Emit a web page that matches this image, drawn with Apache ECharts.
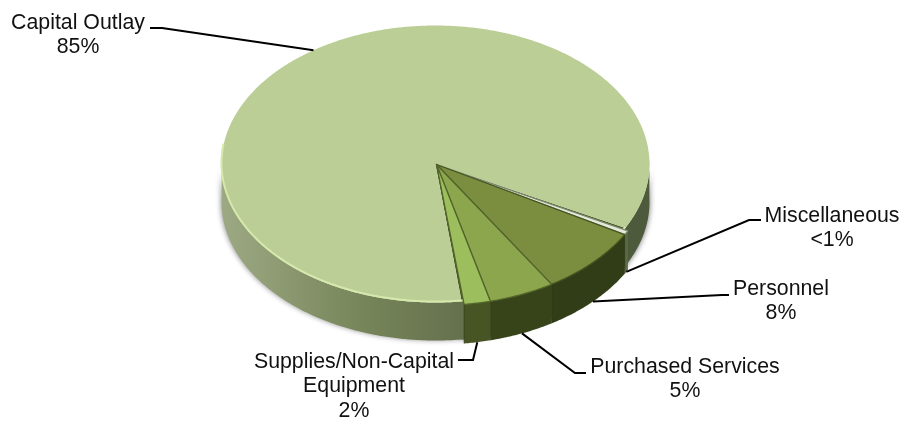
<!DOCTYPE html>
<html>
<head>
<meta charset="utf-8">
<style>html,body{margin:0;padding:0;background:#fff}#chart{width:904px;height:421px}</style>
<script src="https://cdn.jsdelivr.net/npm/echarts@6/dist/echarts.min.js"></script>
</head>
<body>
<div id="chart"></div>
<script>
// Spending shares, drawn in pie order (counter-clockwise from the bottom seam).
const categories = ['Supplies/Non-Capital\nEquipment', 'Purchased Services', 'Personnel', 'Miscellaneous', 'Capital Outlay'];
const values = [2, 5, 8, 0.5, 85];
const shareLabels = ['2%', '5%', '8%', '<1%', '85%'];

// Pie geometry: an elliptical top face above a vertical rim.
const pie = { cx: 435.5, cy: 164, rx: 214, ry: 138.5, depth: 38, seamDeg: 83 };
const detached = { dx: 2.5, dy: 3, apexDx: 1, apexDy: 0.5, depth: 39 };

const styles = [
  { top: '#9cbe5c', wall: '#475524', edge: '#54652b' },
  { top: '#8ba64d', wall: '#37441a', edge: '#54652b' },
  { top: '#7b8e40', wall: '#313d17', edge: '#46551f' },
  { top: '#e4e9da', wall: '#5d6a48', edge: '#7d8a6e' },
  { top: '#bbce96', wall: '#4f5b3d', edge: '#bbce96' }
];

// Elbow point, label centre and first-line position of each callout.
const callouts = [
  { elbow: [473, 360], end: [458, 360], x: 354, y: 362 },
  { elbow: [575, 373], end: [586, 373], x: 685, y: 367 },
  { elbow: [722, 295], end: [729, 295], x: 781, y: 289 },
  { elbow: [749, 220], end: [761, 220], x: 832, y: 216 },
  { elbow: [162, 28], end: [150, 28], x: 78, y: 23 }
];

const total = values.reduce((a, b) => a + b, 0);
const RAD = Math.PI / 180;

// Angular span of a slice, walking backwards from the seam.
function span(i) {
  let from = pie.seamDeg;
  for (let k = 0; k < i; k++) from -= values[k] / total * 360;
  return [from - values[i] / total * 360, from];
}
function rim(deg, ox, oy, drop) {
  return [pie.cx + ox + pie.rx * Math.cos(deg * RAD), pie.cy + oy + drop + pie.ry * Math.sin(deg * RAD)];
}
function arc(a, b, ox, oy, drop) {
  const n = Math.max(2, Math.ceil(Math.abs(b - a) * 2));
  const pts = [];
  for (let k = 0; k <= n; k++) pts.push(rim(a + (b - a) * k / n, ox, oy, drop));
  return pts;
}
function wallPiece(a, b, ox, oy, fill, depth, extra) {
  return Object.assign({
    type: 'polygon',
    shape: { points: arc(a, b, ox, oy, 0).concat(arc(b, a, ox, oy, depth)) },
    style: { fill: fill }
  }, extra || {});
}

function renderSlice(params) {
  const i = params.dataIndex;
  const [start, end] = span(i);
  const s = styles[i];
  const isMain = i === values.length - 1;
  const ox = isMain ? 0 : detached.dx;
  const oy = isMain ? 0 : detached.dy;
  const depth = isMain ? pie.depth : detached.depth;
  const apex = isMain ? [pie.cx, pie.cy] : [pie.cx + detached.apexDx, pie.cy + detached.apexDy];
  const children = [];

  if (isMain) {
    // Main slice: visible rim on the right and a shaded sweep on the front-left.
    children.push(wallPiece(-2, start + 360, 0, 0, '#4e5a3c', depth, {
      style: { fill: '#4e5a3c', shadowBlur: 5, shadowColor: 'rgba(60,60,60,0.55)', shadowOffsetX: 1 }
    }));
    children.push(wallPiece(end, 182, 0, 0, '#4f5b3d', depth, {
      style: {
        shadowBlur: 5, shadowColor: 'rgba(60,60,60,0.5)', shadowOffsetX: -1,
        fill: new echarts.graphic.LinearGradient(1, 0, 0, 0, [
          { offset: 0, color: '#4c573b' },
          { offset: 0.3, color: '#5c6847' },
          { offset: 0.65, color: '#77855a' },
          { offset: 1, color: '#9da983' }
        ])
      }
    }));
    // Dark backing that shows through the seam around the detached wedges.
    children.push({
      type: 'polygon',
      shape: { points: [apex].concat(arc(start + 360, end, 0, 0, 0)) },
      style: { fill: '#4a5a26' }
    });
  } else {
    children.push(wallPiece(start, end, ox, oy, s.wall, depth));
    children.push({
      type: 'polyline',
      shape: { points: [rim(end, ox, oy, 0), rim(end, ox, oy, depth)] },
      style: { stroke: '#2a3412', lineWidth: 1, fill: 'none', opacity: 0.6 }
    });
  }

  children.push({
    type: 'polygon',
    shape: { points: [apex].concat(arc(start, end, ox, oy, 0)) },
    style: { fill: s.top, stroke: s.edge, lineWidth: isMain ? 0 : 1.3, lineJoin: 'round' }
  });

  if (isMain) {
    // Pale highlight running along the front edge of the main face.
    children.push({
      type: 'polyline',
      shape: { points: arc(end, 188, 0, 0, -1) },
      style: { stroke: '#d6e8ac', lineWidth: 2, fill: 'none' }
    });
  }

  // Callout: leader from the slice's mid-angle, then a short elbow to the label.
  const mid = (start + end) / 2;
  const anchor = rim(mid, ox, oy, Math.sin(mid * RAD) > 0 ? depth : 0);
  const c = callouts[i];
  children.push({
    type: 'polyline',
    shape: { points: [anchor, c.elbow, c.end] },
    style: { stroke: '#000', lineWidth: 2, fill: 'none' }
  });
  children.push({
    type: 'text',
    style: {
      x: c.x, y: c.y - 12.5,
      text: categories[i] + '\n' + shareLabels[i],
      font: '21.3px "Liberation Sans", Arial, sans-serif',
      lineHeight: 24.7,
      fill: '#111',
      align: 'center',
      verticalAlign: 'top'
    }
  });
  return { type: 'group', children: children };
}

// Paint the large slice first so the smaller, detached ones sit over it.
const paintOrder = [4, 3, 2, 1, 0];
const chart = echarts.init(document.getElementById('chart'), null, { renderer: 'canvas' });
chart.setOption({
  backgroundColor: '#fff',
  animation: false,
  series: [{
    type: 'custom',
    coordinateSystem: 'none',
    silent: true,
    data: paintOrder.map(i => ({ name: categories[i], value: values[i] })),
    renderItem: function (params) {
      return renderSlice({ dataIndex: paintOrder[params.dataIndex] });
    }
  }]
});
</script>
</body>
</html>
